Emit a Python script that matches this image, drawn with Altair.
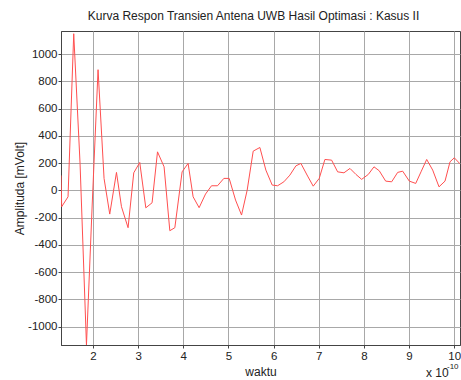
import altair as alt
import pandas as pd

# time (x 1e-10 s) and amplitude (mVolt)
waktu = [1.29, 1.305, 1.446, 1.572, 1.712, 1.854, 1.982, 2.111, 2.244, 2.370,
         2.519, 2.630, 2.776, 2.902, 3.035, 3.169, 3.308, 3.428, 3.574, 3.701,
         3.812, 3.973, 4.106, 4.217, 4.350, 4.492, 4.625, 4.758, 4.898, 5.016,
         5.157, 5.290, 5.415, 5.548, 5.696, 5.829, 5.969, 6.089, 6.228, 6.361,
         6.494, 6.605, 6.754, 6.878, 7.011, 7.137, 7.286, 7.419, 7.559, 7.692,
         7.825, 7.951, 8.098, 8.224, 8.341, 8.483, 8.616, 8.749, 8.860, 9.007,
         9.149, 9.266, 9.392, 9.525, 9.665, 9.798, 9.909, 10.004, 10.13]
amplituda = [110, -120, -47, 1150, 198, -1135, -100, 886, 88, -174,
             132, -120, -274, 129, 205, -128, -91, 283, 173, -296,
             -274, 136, 198, -47, -127, -27, 34, 34, 88, 88,
             -71, -181, 2, 288, 315, 149, 39, 34, 63, 112,
             180, 198, 105, 31, 88, 227, 222, 136, 129, 161,
             117, 81, 117, 173, 144, 68, 63, 132, 141, 68,
             51, 136, 227, 149, 26, 68, 210, 239, 195]

x_ticks = [2, 3, 4, 5, 6, 7, 8, 9, 10]
y_ticks = [-1000, -800, -600, -400, -200, 0, 200, 400, 600, 800, 1000]

df = pd.DataFrame({"waktu": waktu, "amp": amplituda})

FONT = "Liberation Sans"

line = alt.Chart(df).mark_line(color="#ff4f4f", strokeWidth=1, clip=True).encode(
    x=alt.X("waktu:Q", title="waktu",
            scale=alt.Scale(domain=[1.29, 10.13], nice=False, zero=False),
            axis=alt.Axis(values=x_ticks, labelExpr="toString(datum.value)",
                          tickSize=3, labelPadding=2, titlePadding=5)),
    y=alt.Y("amp:Q", title="Amplituda [mVolt]",
            scale=alt.Scale(domain=[-1135, 1170], nice=False, zero=False),
            axis=alt.Axis(values=y_ticks, labelExpr="toString(datum.value)",
                          tickSize=3, labelPadding=1, titlePadding=1)),
)

exp_base = alt.Chart(pd.DataFrame({"t": ["x 10"]})).mark_text(
    font=FONT, fontSize=12, align="left", baseline="middle", color="#222222"
).encode(x=alt.value(365), y=alt.value(342), text="t:N")

exp_sup = alt.Chart(pd.DataFrame({"t": ["-10"]})).mark_text(
    font=FONT, fontSize=8, align="left", baseline="middle", color="#222222"
).encode(x=alt.value(386), y=alt.value(336), text="t:N")

chart = alt.layer(line, exp_base, exp_sup).properties(
    width=399, height=314,
    title=alt.TitleParams("Kurva Respon Transien Antena UWB Hasil Optimasi : Kasus II",
                          font=FONT, fontSize=12, fontWeight="normal", color="#222222",
                          offset=8, dx=-7),
    padding={"left": 61, "top": 31, "right": 1, "bottom": 35},
    autosize=alt.AutoSizeParams(type="none"),
).configure_view(
    stroke="#444444", strokeWidth=1
).configure_axis(
    labelFont=FONT, titleFont=FONT, labelFontSize=11.5, titleFontSize=12,
    titleFontWeight="normal", labelColor="#222222", titleColor="#222222",
    domainColor="#444444", tickColor="#444444", gridColor="#a8a8a8", gridOpacity=1,
    grid=True
)

chart.save("out.html", embed_options={"renderer": "svg", "actions": False})
